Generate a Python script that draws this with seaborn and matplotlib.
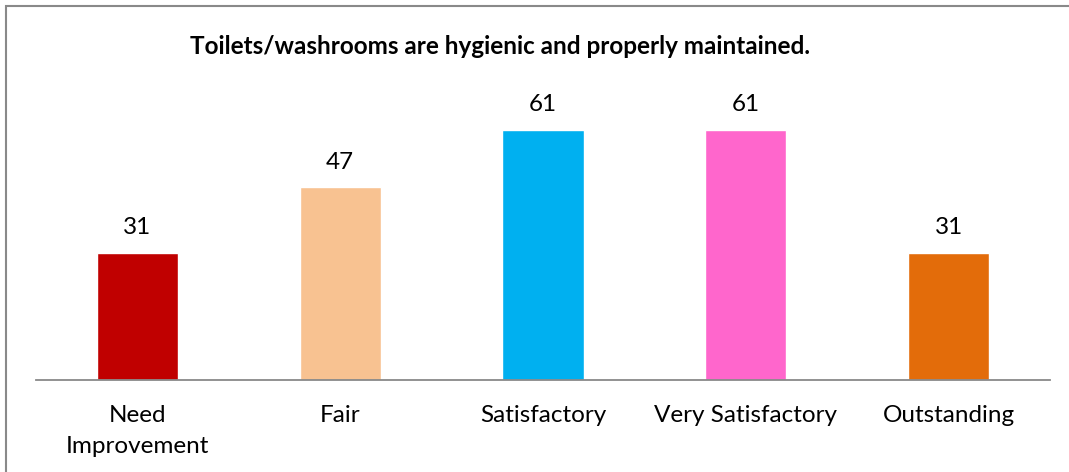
import seaborn as sns
import pandas as pd
import matplotlib.pyplot as plt
from matplotlib.patches import Rectangle

categories = ['Need\nImprovement', 'Fair', 'Satisfactory', 'Very Satisfactory', 'Outstanding']
counts = [31, 47, 61, 61, 31]
bar_colors = ['#C00000', '#F8C291', '#00B0F0', '#FF66CC', '#E36C0A']

df = pd.DataFrame({'category': categories, 'count': counts})

sns.set_style('white')
plt.rcParams['font.family'] = ['Lato', 'DejaVu Sans']
plt.rcParams['text.color'] = 'black'
plt.rcParams['xtick.color'] = 'black'

fig = plt.figure(figsize=(10.69, 4.72), dpi=100)
ax = fig.add_axes([36 / 1069, 92 / 472, 1014 / 1069, 328 / 472])

sns.barplot(data=df, x='category', y='count', hue='category', palette=bar_colors,
            width=0.4, legend=False, ax=ax, saturation=1)

for i, v in enumerate(counts):
    ax.text(i, v + 3.6, str(v), ha='center', va='bottom', fontsize=17.5)

ax.set_ylim(0, 80)
ax.set_xlim(-0.5, 4.5)
ax.set_yticks([])
ax.set_xlabel('')
ax.set_ylabel('')
for s in ['top', 'right', 'left']:
    ax.spines[s].set_visible(False)
ax.spines['bottom'].set_color('#898989')
ax.spines['bottom'].set_linewidth(1.3)
ax.tick_params(axis='x', length=0, pad=18, labelsize=17.5)
for lbl in ax.get_xticklabels():
    lbl.set_linespacing(1.6)

fig.text(500 / 1069, 1 - 47 / 472, 'Toilets/washrooms are hygienic and properly maintained.',
         ha='center', va='center', fontsize=17.5, fontweight='bold')

# outer chart border
fig.patches.append(Rectangle((6 / 1069, -0.1), 1.2, 1 - 5.5 / 472 + 0.1, transform=fig.transFigure,
                             fill=False, edgecolor='#898989', linewidth=1.5))

fig.savefig('out.png', dpi=100)
